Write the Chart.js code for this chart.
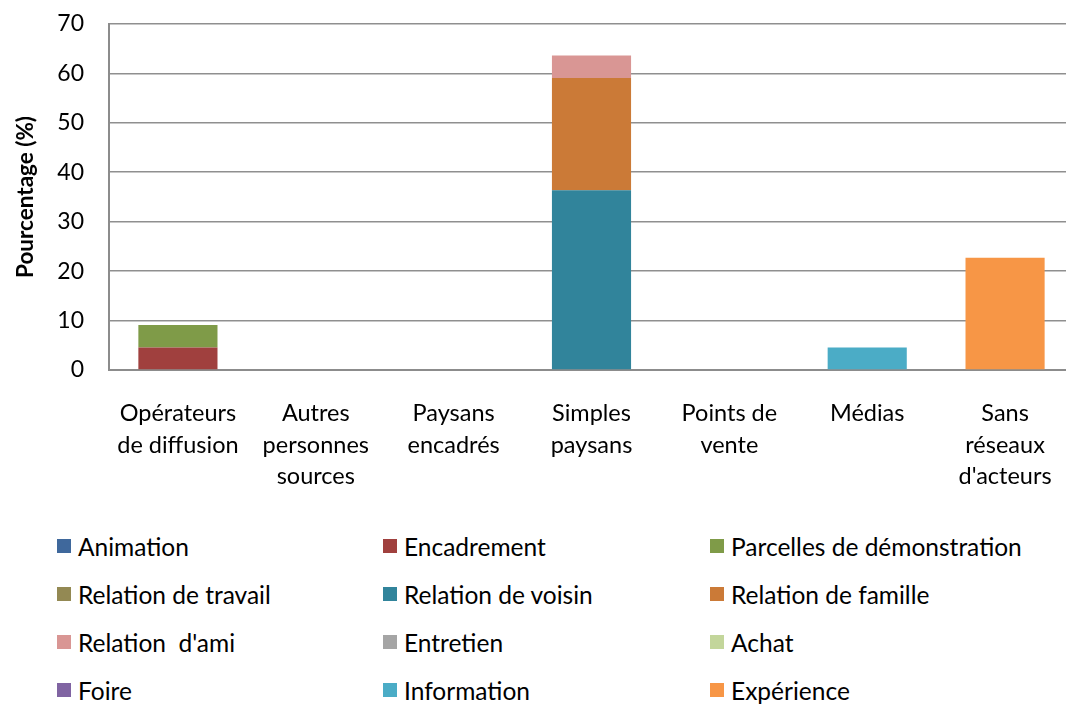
<!DOCTYPE html>
<html lang="fr">
<head>
<meta charset="utf-8">
<title>Pourcentage par type d'acteur</title>
<script src="https://cdn.jsdelivr.net/npm/chart.js@4/dist/chart.umd.min.js"></script>
<style>
  html, body { margin: 0; padding: 0; background: #fff; overflow: hidden; }
  #wrap { position: relative; width: 1066px; height: 704px; font-family: Lato, sans-serif; overflow: hidden; }
  /* le tracé déborde un peu à droite du cadre visible */
  #box { position: absolute; left: 0; top: 0; width: 1074px; height: 520px; }
  #legend {
    position: absolute; left: 0; top: 522px; width: 1066px;
    display: grid; grid-template-columns: 326px 327px 356px;
    padding-left: 57px; box-sizing: border-box;
  }
  #legend .item { height: 48px; display: flex; align-items: center; font-size: 24.5px; color: #000; white-space: pre; }
  #legend .sw { width: 14px; height: 14px; margin-right: 7px; flex: none; }
</style>
</head>
<body>
<div id="wrap">
  <div id="box"><canvas id="chart"></canvas></div>
  <div id="legend"></div>
</div>
<script>
// Catégories d'acteurs (axe X)
const categories = [
  ['Opérateurs', 'de diffusion'],
  ['Autres', 'personnes', 'sources'],
  ['Paysans', 'encadrés'],
  ['Simples', 'paysans'],
  ['Points de', 'vente'],
  ['Médias'],
  ['Sans', 'réseaux', "d'acteurs"]
];

// Pourcentages par source d'information, une valeur par catégorie
const animation        = [0, 0, 0, 0, 0, 0, 0];
const encadrement      = [4.55, 0, 0, 0, 0, 0, 0];
const parcelles        = [4.55, 0, 0, 0, 0, 0, 0];
const relationTravail  = [0, 0, 0, 0, 0, 0, 0];
const relationVoisin   = [0, 0, 0, 36.36, 0, 0, 0];
const relationFamille  = [0, 0, 0, 22.73, 0, 0, 0];
const relationAmi      = [0, 0, 0, 4.55, 0, 0, 0];
const entretien        = [0, 0, 0, 0, 0, 0, 0];
const achat            = [0, 0, 0, 0, 0, 0, 0];
const foire            = [0, 0, 0, 0, 0, 0, 0];
const information      = [0, 0, 0, 0, 0, 4.55, 0];
const experience       = [0, 0, 0, 0, 0, 0, 22.73];

const seriesNames = [
  'Animation', 'Encadrement', 'Parcelles de démonstration',
  'Relation de travail', 'Relation de voisin', 'Relation de famille',
  "Relation  d'ami", 'Entretien', 'Achat',
  'Foire', 'Information', 'Expérience'
];
const seriesValues = [
  animation, encadrement, parcelles,
  relationTravail, relationVoisin, relationFamille,
  relationAmi, entretien, achat,
  foire, information, experience
];
const seriesColors = [
  '#3F689C', '#A0403E', '#7F9B48',
  '#938953', '#31849B', '#CB7A37',
  '#D99694', '#A5A5A5', '#C3D69B',
  '#8064A2', '#4BACC6', '#F79646'
];

const yTicks = { min: 0, max: 70, step: 10 };

const FONT = 'Lato, sans-serif';

const datasets = seriesNames.map((name, i) => ({
  label: name,
  data: seriesValues[i],
  backgroundColor: seriesColors[i],
  borderWidth: 0,
  categoryPercentage: 1,
  barPercentage: 0.574
}));

const chart = new Chart(document.getElementById('chart'), {
  type: 'bar',
  data: { labels: categories, datasets },
  options: {
    responsive: true,
    maintainAspectRatio: false,
    animation: false,
    layout: { padding: { top: 24, right: 0, bottom: 0, left: 0 } },
    plugins: {
      legend: { display: false },
      tooltip: { enabled: false }
    },
    scales: {
      x: {
        stacked: true,
        grid: { display: false, drawTicks: false },
        border: { display: true, color: '#8c8c8c', width: 2 },
        ticks: {
          color: '#000',
          font: { family: FONT, size: 23.5, lineHeight: 1.36 },
          padding: 27,
          maxRotation: 0,
          autoSkip: false
        },
        afterFit(scale) {
          scale.height = 150;
          scale.paddingLeft = 0;
          scale.paddingRight = 0;
        }
      },
      y: {
        stacked: true,
        min: yTicks.min,
        max: yTicks.max,
        grid: { color: '#8f8f8f', lineWidth: 1.6, drawTicks: false },
        border: { display: true, color: '#8c8c8c', width: 2 },
        ticks: {
          stepSize: yTicks.step,
          color: '#000',
          font: { family: FONT, size: 23 },
          padding: 25
        },
        title: {
          display: true,
          text: 'Pourcentage (%)',
          color: '#000',
          font: { family: FONT, size: 22.5, weight: 'bold' },
          padding: { top: 12, bottom: 0 }
        },
        afterFit(scale) {
          scale.width = 109;
          scale.paddingTop = 0;
          scale.paddingBottom = 0;
        }
      }
    }
  }
});

// Légende en trois colonnes sous le graphique
const legendEl = document.getElementById('legend');
chart.data.datasets.forEach(ds => {
  const item = document.createElement('div');
  item.className = 'item';
  const sw = document.createElement('span');
  sw.className = 'sw';
  sw.style.background = ds.backgroundColor;
  const txt = document.createElement('span');
  txt.textContent = ds.label;
  item.appendChild(sw);
  item.appendChild(txt);
  legendEl.appendChild(item);
});
</script>
</body>
</html>
